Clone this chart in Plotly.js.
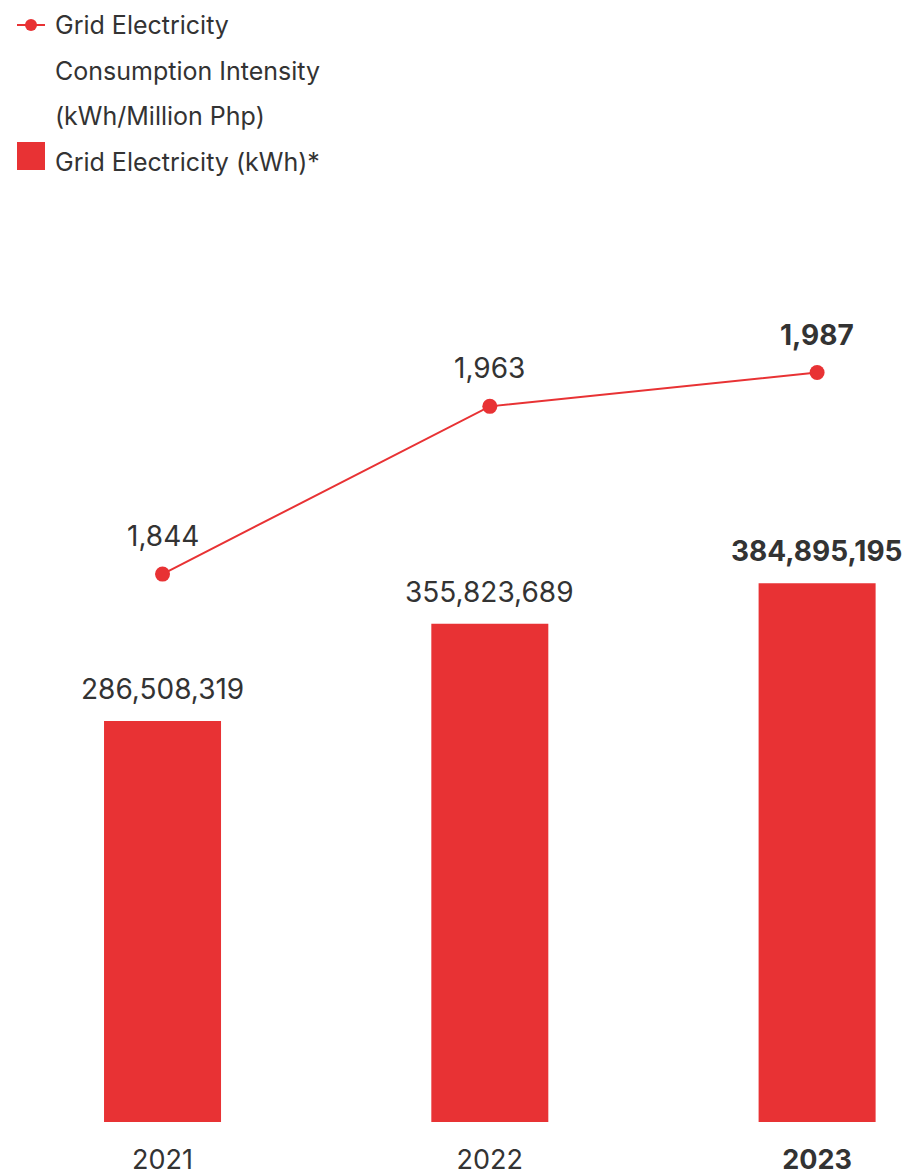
<!DOCTYPE html>
<html><head><meta charset="utf-8">
<script src="https://cdn.plot.ly/plotly-3.0.1.min.js"></script>
<style>html,body{margin:0;padding:0;background:#fff}#chart{width:913px;height:1175px}</style>
</head><body><div id="chart"></div>
<script>
// ---- data ----
const years = ['2021', '2022', '2023'];
const yearTickText = ['2021', '2022', '<b>2023</b>'];
const gridElectricityKwh = [286508319, 355823689, 384895195];
const intensityKwhPerMillionPhp = [1844, 1963, 1987];
const barValueLabels = ['286,508,319', '355,823,689', '<b>384,895,195</b>'];
const lineValueLabels = ['1,844', '1,963', '<b>1,987</b>'];
const legendLineText = ['Grid Electricity', 'Consumption Intensity', '(kWh/Million Php)'];
const legendBarText = 'Grid Electricity (kWh)*';

// ---- layout helpers ----
const W = 913, H = 1175, T = 200, B = 53;
const RED = '#E83234', TXT = '#333333', FONT = 'Inter, Lato, sans-serif';
const plotH = H - T - B;
const px2px = x => x / W;                 // paper x (l=r=0)
const py2py = y => (H - B - y) / plotH;   // paper y
const barRange = [0, plotH / 1.4 * 1e6];
const lineRange = [1931.33 - (H - B - 451) / 1.4096, 1931.33 + (451 - T) / 1.4096];

const traces = [
  { type: 'bar', x: years, y: gridElectricityKwh, width: 0.3575,
    marker: { color: RED }, hoverinfo: 'none', showlegend: false, name: legendBarText },
  { type: 'scatter', mode: 'lines+markers', x: years, y: intensityKwhPerMillionPhp, yaxis: 'y2',
    line: { color: RED, width: 2 }, marker: { color: RED, size: 15 },
    hoverinfo: 'none', showlegend: false, name: legendLineText.join(' ') }
];

const annotations = [];
years.forEach((yr, i) => {
  annotations.push({ x: i, y: gridElectricityKwh[i], xref: 'x', yref: 'y', text: barValueLabels[i],
    showarrow: false, yanchor: 'bottom', yshift: 13, font: { family: FONT, size: 28, color: TXT } });
  annotations.push({ x: i, y: intensityKwhPerMillionPhp[i], xref: 'x', yref: 'y2', text: lineValueLabels[i],
    showarrow: false, yanchor: 'bottom', yshift: 19, font: { family: FONT, size: 28, color: TXT } });
});
const legendYs = [25, 71, 116];
legendLineText.forEach((t, i) => {
  annotations.push({ x: px2px(53), y: py2py(legendYs[i]), xref: 'paper', yref: 'paper', text: t,
    showarrow: false, xanchor: 'left', yanchor: 'middle', font: { family: FONT, size: 25, color: TXT } });
});
annotations.push({ x: px2px(53), y: py2py(162), xref: 'paper', yref: 'paper', text: legendBarText,
  showarrow: false, xanchor: 'left', yanchor: 'middle', font: { family: FONT, size: 25, color: TXT } });

const shapes = [
  { type: 'line', xref: 'paper', yref: 'paper', x0: px2px(17), x1: px2px(45), y0: py2py(25), y1: py2py(25),
    line: { color: RED, width: 2 } },
  { type: 'circle', xref: 'paper', yref: 'paper', x0: px2px(25), x1: px2px(37), y0: py2py(19), y1: py2py(31),
    fillcolor: RED, line: { color: RED, width: 0 } },
  { type: 'rect', xref: 'paper', yref: 'paper', x0: px2px(17), x1: px2px(45), y0: py2py(142), y1: py2py(170),
    fillcolor: RED, line: { width: 0 } }
];

const hiddenAxis = { showgrid: false, zeroline: false, showline: false, showticklabels: false, ticks: '', fixedrange: true };
const layout = {
  width: W, height: H,
  margin: { l: 0, r: 0, t: T, b: B },
  paper_bgcolor: '#ffffff', plot_bgcolor: '#ffffff',
  showlegend: false,
  xaxis: { type: 'category', range: [-0.4966, 2.293], tickvals: years, ticktext: yearTickText,
    showgrid: false, zeroline: false, showline: false, ticks: '', ticklabelstandoff: 19,
    tickfont: { family: FONT, size: 27, color: TXT }, fixedrange: true },
  yaxis: Object.assign({ range: barRange }, hiddenAxis),
  yaxis2: Object.assign({ range: lineRange, overlaying: 'y', side: 'right' }, hiddenAxis),
  annotations: annotations,
  shapes: shapes
};
Plotly.newPlot('chart', traces, layout, { displayModeBar: false, staticPlot: true });
</script>
</body></html>
